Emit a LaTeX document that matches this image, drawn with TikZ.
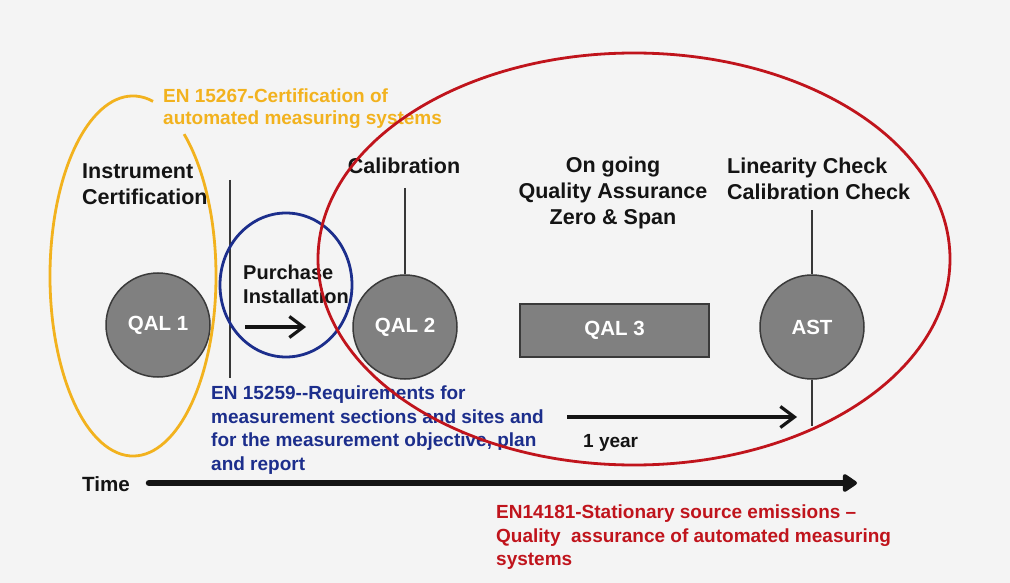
\documentclass[tikz,border=0pt]{standalone}
\usepackage{fontspec}
\setmainfont{Liberation Sans}
\usetikzlibrary{arrows.meta}
\definecolor{bg}{HTML}{F4F4F4}
\definecolor{yel}{HTML}{F2B21E}
\definecolor{blu}{HTML}{1C2E8C}
\definecolor{redc}{HTML}{C0141C}
\definecolor{discfill}{HTML}{808080}
\definecolor{discedge}{HTML}{3A3A3A}
\definecolor{ink}{HTML}{141414}
\begin{document}
\begin{tikzpicture}[x=1pt,y=1pt,
  lbl/.style={font=\bfseries\fontsize{21.5}{26}\selectfont, text=ink, inner sep=0},
  disc/.style={circle, draw=discedge, line width=1.5pt, fill=discfill, text=white,
    font=\bfseries\fontsize{20.5}{24}\selectfont, minimum size=104pt, inner sep=0},
  qbox/.style={rectangle, draw=discedge, line width=1.5pt, fill=discfill, text=white,
    font=\bfseries\fontsize{20.5}{24}\selectfont, minimum width=189pt, minimum height=53pt, inner sep=0},
  vline/.style={draw=ink!85, line width=1.5pt},
  chev/.style={draw=ink, line width=3.2pt, -{Straight Barb[length=14pt,width=21pt]}},
  norm/.style={font=\bfseries\fontsize{19}{23.5}\selectfont, inner sep=0, align=left, anchor=north west},
  ring/.style={line width=2.8pt}
]
\fill[bg] (0,0) rectangle (1010,-583);
\useasboundingbox (0,0) rectangle (1010,-583);

% discs and box
\node[disc] (q1) at (158,-325) {QAL 1};
\node[disc] (q2) at (405,-327) {QAL 2};
\node[qbox] (q3) at (614.5,-330.5) {QAL 3};
\node[disc] (ast) at (812,-327) {AST};

% vertical lines
\coordinate (v1t) at (230,-180);
\coordinate (v1b) at (230,-378);
\coordinate (calt) at (405,-188);
\coordinate (astt) at (812,-210);
\coordinate (astb) at (812,-426);
\draw[vline] (v1t) -- (v1b);
\draw[vline] (calt) -- (q2.north);
\draw[vline] (astt) -- (ast.north);
\draw[vline] (ast.south) -- (astb);

% black labels
\node[lbl, align=left, anchor=north west] (instr) at (82,-163.3) {Instrument\\Certification};
\node[lbl, anchor=north] (cal) at (404,-157.3) {Calibration};
\node[lbl, align=center, anchor=north] (qa) at (613,-157) {On going\\Quality Assurance\\Zero \& Span};
\node[lbl, align=left, anchor=north west] (lin) at (727,-157.3) {Linearity Check\\Calibration Check};
\node[font=\bfseries\fontsize{20}{24}\selectfont, text=ink, inner sep=0, align=left, anchor=north west] (pur) at (243,-264.4) {Purchase\\Installation};

% arrows
\coordinate (pa) at (245,-327);
\coordinate (pb) at (306,-327);
\draw[chev] (pa) -- (pb);
\coordinate (ya) at (567,-417);
\coordinate (yb) at (797,-417);
\draw[chev] (ya) -- (yb);
\node[font=\bfseries\fontsize{19}{23}\selectfont, text=ink, inner sep=0, anchor=base west] (yr) at (583,-447) {1 year};

\node[font=\bfseries\fontsize{20.6}{24}\selectfont, text=ink, inner sep=0, anchor=base west] (time) at (82,-491) {Time};
\coordinate (ta) at (149,-483);
\coordinate (tb) at (857,-483);
\draw[ink, line width=6.5pt, line cap=round, -{Triangle[round,length=16pt,width=20pt]}] (ta) -- (tb);

% coloured texts
\node[norm, text=yel, font=\bfseries\fontsize{19}{22}\selectfont] (en1) at (163,-88.6) {EN 15267-Certification of\\automated measuring systems};
\node[norm, text=blu] (en2) at (211,-385.6) {EN 15259{-}{-}Requirements for\\measurement sections and sites and\\for the measurement objective, plan\\and report};
\node[norm, text=redc] (en3) at (496,-504.6) {EN14181-Stationary source emissions --\\Quality\ \ assurance of automated measuring\\systems};

% rings
\draw[ring, yel] (133,-276) ++(76:83 and 180) arc[start angle=76, end angle=412, x radius=83, y radius=180];
\draw[ring, blu] (286,-285) ellipse [x radius=66, y radius=72];
\draw[ring, redc] (634,-259) ellipse [x radius=316, y radius=206];
\end{tikzpicture}
\end{document}
